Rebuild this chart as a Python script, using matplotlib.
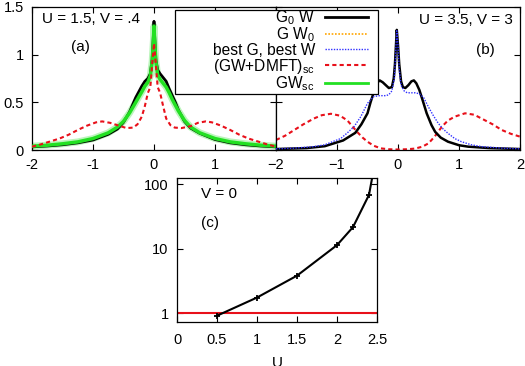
import matplotlib
matplotlib.use("Agg")
import matplotlib.pyplot as plt
from matplotlib.lines import Line2D
from matplotlib.patches import Rectangle

plt.rcParams['font.family'] = ['Liberation Sans', 'DejaVu Sans']
plt.rcParams['mathtext.fontset'] = 'custom'
plt.rcParams['mathtext.rm'] = 'Liberation Sans'
plt.rcParams['mathtext.it'] = 'Liberation Sans'
plt.rcParams['font.size'] = 10

# ---------------- panel (a): U = 1.5, V = .4 ----------------
wa_g0w = [-2, -1.75, -1.5, -1.25, -1.0, -0.75, -0.6, -0.5, -0.4, -0.3, -0.2, -0.15, -0.1, -0.06, -0.03, -0.01,
          0, 0.01, 0.03, 0.06, 0.1, 0.15, 0.2, 0.25, 0.3, 0.35, 0.4, 0.5, 0.6, 0.75, 1.0, 1.25, 1.5, 1.75, 2]
Aa_g0w = [0.033, 0.042, 0.055, 0.075, 0.105, 0.165, 0.22, 0.29, 0.40, 0.55, 0.67, 0.72, 0.75, 0.80, 0.95, 1.2,
          1.35, 1.2, 0.95, 0.84, 0.80, 0.76, 0.72, 0.64, 0.57, 0.50, 0.42, 0.30, 0.23, 0.175, 0.11, 0.075, 0.055, 0.042, 0.033]

wa_gwsc = [-2, -1.75, -1.5, -1.25, -1.0, -0.75, -0.6, -0.5, -0.4, -0.3, -0.2, -0.15, -0.1, -0.06, -0.03, -0.01,
           0, 0.01, 0.03, 0.06, 0.1, 0.15, 0.2, 0.25, 0.3, 0.35, 0.4, 0.5, 0.6, 0.75, 1.0, 1.25, 1.5, 1.75, 2]
Aa_gwsc = [0.04, 0.05, 0.065, 0.085, 0.12, 0.18, 0.24, 0.30, 0.39, 0.50, 0.61, 0.67, 0.71, 0.78, 0.93, 1.15,
           1.30, 1.15, 0.93, 0.79, 0.74, 0.70, 0.66, 0.60, 0.53, 0.47, 0.41, 0.31, 0.24, 0.18, 0.12, 0.085, 0.065, 0.05, 0.04]

wa_dmft = [-2, -1.85, -1.7, -1.55, -1.4, -1.25, -1.1, -0.95, -0.85, -0.72, -0.6, -0.45, -0.34, -0.27, -0.2, -0.15,
           -0.1, -0.06, -0.03, 0, 0.03, 0.06, 0.1, 0.15, 0.2, 0.27, 0.34, 0.45, 0.6, 0.72, 0.85, 0.95, 1.1, 1.25,
           1.4, 1.55, 1.7, 1.85, 2]
Aa_dmft = [0.035, 0.06, 0.09, 0.12, 0.16, 0.21, 0.255, 0.29, 0.30, 0.285, 0.26, 0.23, 0.235, 0.27, 0.35, 0.46,
           0.60, 0.66, 0.90, 1.12, 0.90, 0.66, 0.60, 0.46, 0.33, 0.26, 0.235, 0.23, 0.25, 0.285, 0.30, 0.29, 0.255,
           0.21, 0.16, 0.12, 0.09, 0.06, 0.035]

# ---------------- panel (b): U = 3.5, V = 3 ----------------
wb_g0w = [-2, -1.5, -1.2, -1.05, -0.9, -0.8, -0.7, -0.6, -0.5, -0.45, -0.4, -0.35, -0.3, -0.25, -0.2, -0.15,
          -0.1, -0.07, -0.05, -0.02, 0.0, 0.02, 0.05, 0.08, 0.12, 0.17, 0.22, 0.26, 0.3, 0.35, 0.4, 0.47,
          0.55, 0.61, 0.7, 0.82, 1.0, 1.15, 1.5, 2]
Ab_g0w = [0.01, 0.02, 0.04, 0.07, 0.10, 0.14, 0.18, 0.27, 0.385, 0.50, 0.60, 0.70, 0.73, 0.71, 0.68, 0.65,
          0.66, 0.75, 0.90, 1.26, 1.10, 0.90, 0.72, 0.66, 0.65, 0.68, 0.72, 0.73, 0.70, 0.63, 0.53, 0.385,
          0.26, 0.19, 0.13, 0.087, 0.05, 0.035, 0.02, 0.01]

wb_best = [-2, -1.7, -1.38, -1.2, -0.94, -0.83, -0.72, -0.61, -0.5, -0.4, -0.3, -0.2, -0.15, -0.1, -0.06,
           -0.04, -0.02, 0.0, 0.02, 0.05, 0.1, 0.15, 0.2, 0.28, 0.35, 0.42, 0.5, 0.58, 0.66, 0.74, 0.82,
           0.93, 1.04, 1.2, 1.37, 1.7, 2]
Ab_best = [0.012, 0.02, 0.035, 0.055, 0.12, 0.18, 0.245, 0.35, 0.49, 0.56, 0.57, 0.57, 0.58, 0.62, 0.75,
           1.0, 1.25, 1.1, 0.85, 0.68, 0.62, 0.60, 0.60, 0.60, 0.59, 0.55, 0.45, 0.36, 0.28, 0.22, 0.175,
           0.12, 0.087, 0.055, 0.035, 0.02, 0.012]

wb_dmft = [-2, -1.85, -1.7, -1.55, -1.38, -1.25, -1.1, -0.95, -0.83, -0.75, -0.67, -0.58, -0.5, -0.4, -0.28,
           -0.15, 0, 0.15, 0.28, 0.4, 0.5, 0.6, 0.72, 0.82, 0.93, 1.1, 1.25, 1.37, 1.55, 1.7, 1.85, 2]
Ab_dmft = [0.105, 0.15, 0.21, 0.27, 0.33, 0.365, 0.38, 0.36, 0.31, 0.25, 0.19, 0.13, 0.087, 0.045, 0.017,
           0.008, 0.005, 0.008, 0.015, 0.035, 0.07, 0.14, 0.245, 0.31, 0.35, 0.385, 0.37, 0.33, 0.27, 0.21,
           0.17, 0.14]

# ---------------- panel (c): V = 0 ----------------
U_vals = [0.5, 1.0, 1.5, 2.0, 2.2, 2.4, 2.47]
c_vals = [0.91, 1.74, 3.8, 11.3, 21.5, 68, 200]
ref_level = 1.0

xticks_ab = [-2, -1, 0, 1, 2]
xticklabels_a = ['-2', '-1', '0', '1', '']
yticks_ab = [0, 0.5, 1, 1.5]
yticklabels_ab = ['0', '0.5', '1', '1.5']
xticks_c = [0, 0.5, 1, 1.5, 2, 2.5]
xticklabels_c = ['0', '0.5', '1', '1.5', '2', '2.5']
yticks_c = [1, 10, 100]
yticklabels_c = ['1', '10', '100']

labels = [r'G$_0$ W', r'G W$_0$', 'best G, best W', r'(GW+DMFT)$_{\rm sc}$', r'GW$_{\rm sc}$']

c_black = 'black'
c_orange = '#ffa500'
c_blue = '#3030ff'
c_red = '#e8101a'
c_green = '#22e022'

W, H = 525, 366
fig = plt.figure(figsize=(W / 100, H / 100), dpi=100)

def box(l, r, t, b):
    return [l / W, (H - b) / H, (r - l) / W, (b - t) / H]

axa = fig.add_axes(box(32, 276, 7, 150))
axb = fig.add_axes(box(276, 520, 7, 150))
axc = fig.add_axes(box(177, 377, 178, 322))

for ax in (axa, axb, axc):
    ax.tick_params(direction='in', top=True, right=True, length=4, width=0.8, labelsize=10.5, pad=6)
    for s in ax.spines.values():
        s.set_linewidth(0.9)
axc.tick_params(axis='x', pad=8)

# panel a
axa.plot(wa_gwsc, Aa_gwsc, color=c_green, lw=5, alpha=0.3, solid_capstyle='round', zorder=2)
axa.plot(wa_g0w, Aa_g0w, color=c_black, lw=2.0, zorder=3)
axa.plot(wa_gwsc, Aa_gwsc, color=c_green, lw=2.5, zorder=4)
axa.plot(wa_dmft, Aa_dmft, color=c_red, lw=1.5, ls=(0, (2, 1.5)), zorder=5)
axa.set_xlim(-2, 2)
axa.set_ylim(0, 1.5)
axa.set_xticks(xticks_ab)
axa.set_xticklabels(xticklabels_a)
axa.set_yticks(yticks_ab)
axa.set_yticklabels(yticklabels_ab)
axa.text(0.04, 0.965, 'U = 1.5, V = .4', transform=axa.transAxes, ha='left', va='top', fontsize=11)
axa.text(0.16, 0.72, '(a)', transform=axa.transAxes, ha='left', va='center', fontsize=11)

# panel b
axb.plot(wb_dmft, Ab_dmft, color=c_red, lw=1.5, ls=(0, (2, 1.5)), zorder=2)
axb.plot(wb_g0w, Ab_g0w, color=c_black, lw=1.8, zorder=3)
axb.plot(wb_best, Ab_best, color=c_blue, lw=1.0, ls=(0, (1, 1)), zorder=4)
axb.set_xlim(-2, 2)
axb.set_ylim(0, 1.5)
axb.set_xticks(xticks_ab)
axb.set_yticks(yticks_ab)
axb.set_yticklabels([])
axb.text(0.97, 0.955, 'U = 3.5, V = 3', transform=axb.transAxes, ha='right', va='top', fontsize=11)
axb.text(0.82, 0.70, '(b)', transform=axb.transAxes, ha='left', va='center', fontsize=11)

# legend (frame drawn separately, gnuplot-like wide key box)
frame = Rectangle((175 / W, 1 - 94 / H), 203 / W, 84 / H, transform=fig.transFigure,
                  facecolor='white', edgecolor='black', lw=0.9, zorder=9)
fig.add_artist(frame)
handles = [
    Line2D([], [], color=c_black, lw=2.0),
    Line2D([], [], color=c_orange, lw=1.2, ls=(0, (1, 1))),
    Line2D([], [], color=c_blue, lw=1.0, ls=(0, (1, 1))),
    Line2D([], [], color=c_red, lw=1.5, ls=(0, (2, 1.5))),
    Line2D([], [], color=c_green, lw=2.0),
]
leg = fig.legend(handles, labels, loc='upper right', bbox_to_anchor=(368 / W, 1 - 8 / H),
                 markerfirst=False, frameon=False,
                 fontsize=11.2, handlelength=2.77, handletextpad=0.64, labelspacing=-0.08,
                 borderpad=0, borderaxespad=0)
for t in leg.get_texts():
    t.set_ha('right')
leg.set_zorder(10)

# panel c
axc.plot(U_vals, c_vals, color=c_black, lw=1.5, marker='+', ms=4, mew=1.3, zorder=3)
axc.axhline(ref_level, color=c_red, lw=1.5, zorder=2)
axc.set_yscale('log')
axc.set_xlim(0, 2.5)
axc.set_ylim(0.727, 124)
axc.set_xticks(xticks_c)
axc.set_xticklabels(xticklabels_c)
axc.set_yticks(yticks_c)
axc.set_yticklabels(yticklabels_c)
axc.minorticks_off()
axc.set_xlabel('U', fontsize=11, labelpad=6.5)
axc.text(0.12, 0.89, 'V = 0', transform=axc.transAxes, ha='left', va='center', fontsize=11)
axc.text(0.12, 0.69, '(c)', transform=axc.transAxes, ha='left', va='center', fontsize=11)

fig.savefig('out.png', dpi=100)
